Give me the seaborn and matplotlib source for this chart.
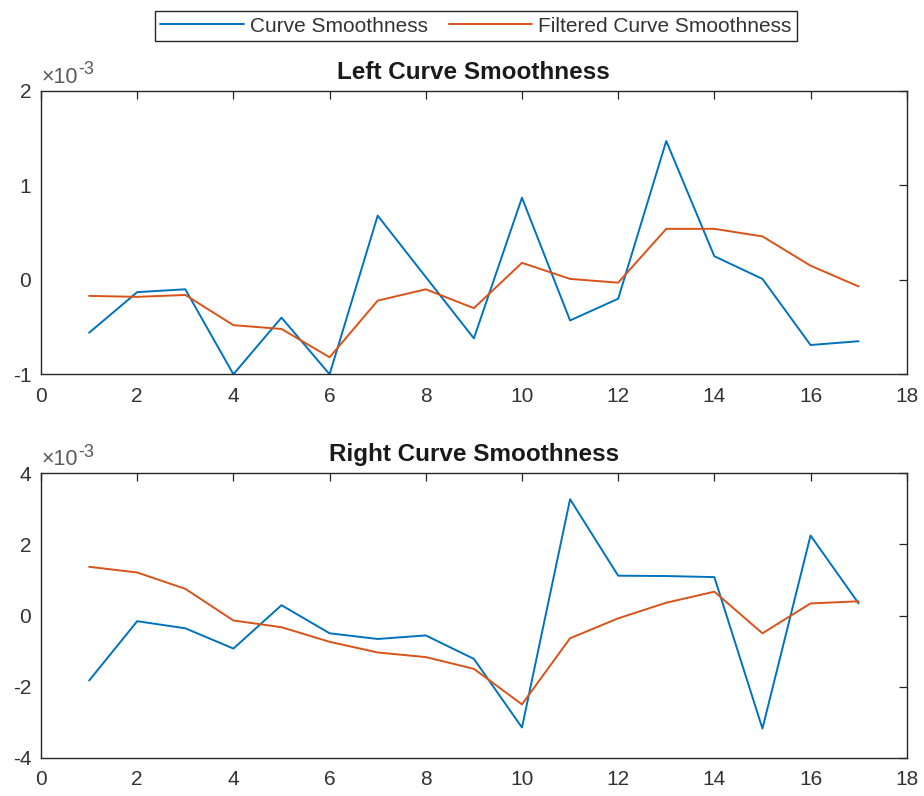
import numpy as np
import pandas as pd
import matplotlib
matplotlib.use("Agg")
import matplotlib.pyplot as plt
import seaborn as sns
from matplotlib.lines import Line2D

# Data (values in units of 1e-3)
x_idx = list(range(1, 18))
left_curve = [-0.56, -0.13, -0.10, -1.00, -0.40, -1.00, 0.68, 0.03, -0.62, 0.87,
              -0.43, -0.20, 1.47, 0.25, 0.01, -0.69, -0.65]
left_filtered = [-0.17, -0.18, -0.16, -0.48, -0.52, -0.82, -0.22, -0.10, -0.30, 0.18,
                 0.01, -0.03, 0.54, 0.54, 0.46, 0.15, -0.07]
right_curve = [-1.83, -0.16, -0.36, -0.93, 0.29, -0.50, -0.66, -0.56, -1.22, -3.15,
               3.27, 1.12, 1.11, 1.08, -3.18, 2.25, 0.34]
right_filtered = [1.37, 1.21, 0.75, -0.14, -0.33, -0.74, -1.04, -1.17, -1.50, -2.50,
                  -0.64, -0.08, 0.36, 0.67, -0.50, 0.34, 0.40]
series_names = ["Curve Smoothness", "Filtered Curve Smoothness"]
titles = ["Left Curve Smoothness", "Right Curve Smoothness"]
x_ticks = [0, 2, 4, 6, 8, 10, 12, 14, 16, 18]
top_yticks = [-1, 0, 1, 2]
bottom_yticks = [-4, -2, 0, 2, 4]

sns.set_theme(style="white")
plt.rcParams['font.family'] = ['Liberation Sans', 'DejaVu Sans']
plt.rcParams['axes.unicode_minus'] = False

colors = ["#0072BD", "#D95319"]
axc = "#262626"

fig = plt.figure(figsize=(9.24, 7.96), dpi=100)
ax1 = fig.add_axes([0.0444, 0.5298, 0.9369, 0.3559])
ax2 = fig.add_axes([0.0444, 0.0481, 0.9369, 0.3573])

def draw(ax, c, f, title, yticks):
    df = pd.DataFrame({"x": x_idx * 2, "y": c + f,
                       "series": [series_names[0]] * len(c) + [series_names[1]] * len(f)})
    sns.lineplot(data=df, x="x", y="y", hue="series", palette=colors, ax=ax,
                 linewidth=1.4, legend=False)
    ax.set_xlim(0, 18)
    ax.set_ylim(yticks[0], yticks[-1])
    ax.set_xticks(x_ticks)
    ax.set_yticks(yticks)
    ax.set_xlabel("")
    ax.set_ylabel("")
    ax.set_title(title, fontsize=17.5, fontweight="bold", color="#1a1a1a", pad=8.5)
    ax.tick_params(direction="in", top=True, right=True, length=6, width=0.9,
                   color=axc, labelcolor="#333333", labelsize=15)
    ax.tick_params(axis="x", pad=9)
    ax.tick_params(axis="y", pad=7)
    for s in ax.spines.values():
        s.set_visible(True)
        s.set_color(axc)
        s.set_linewidth(1.0)
    ax.text(0.0, 1.012, "\u00d710", transform=ax.transAxes, fontsize=15.5,
            color="#5a5a5a", ha="left", va="bottom")
    ax.text(0.0425, 1.045, "-3", transform=ax.transAxes, fontsize=13,
            color="#5a5a5a", ha="left", va="bottom")

draw(ax1, left_curve, left_filtered, titles[0], top_yticks)
draw(ax2, right_curve, right_filtered, titles[1], bottom_yticks)

handles = [Line2D([], [], color=colors[0], lw=1.4), Line2D([], [], color=colors[1], lw=1.4)]
leg = fig.legend(handles, series_names, loc="center", bbox_to_anchor=(0.5152, 0.9673),
                 ncol=2, frameon=True, fancybox=False, framealpha=1, fontsize=15,
                 handlelength=4.0, handletextpad=0.3, columnspacing=1.0,
                 borderpad=0.25, borderaxespad=0, edgecolor="#262626")
leg.get_frame().set_linewidth(1.0)
for t in leg.get_texts():
    t.set_color("#333333")

fig.savefig("out.png", dpi=100)
